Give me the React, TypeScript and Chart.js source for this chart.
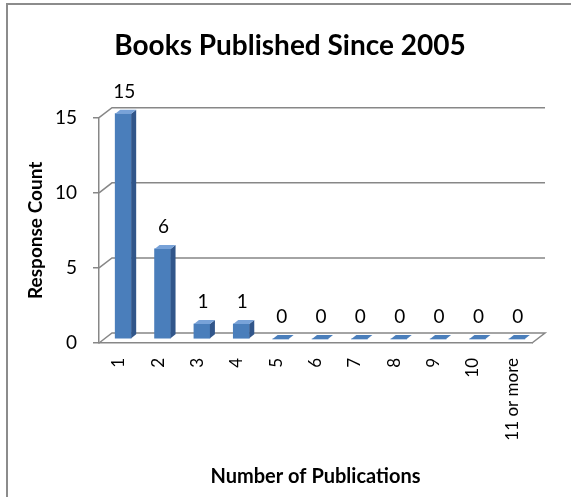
import React, { useEffect, useRef } from "react";
import { Chart, registerables } from "chart.js";

Chart.register(...registerables);

const categories = ["1", "2", "3", "4", "5", "6", "7", "8", "9", "10", "11 or more"];
const responseCounts = [15, 6, 1, 1, 0, 0, 0, 0, 0, 0, 0];
const yTickValues = [0, 5, 10, 15];
const chartTitle = "Books Published Since 2005";
const xAxisTitle = "Number of Publications";
const yAxisTitle = "Response Count";

const FONT = "Lato, 'Open Sans', 'DejaVu Sans', sans-serif";
const GRID = "#878787";
const FRONT = "#4a7ebb";
const SIDE = "#31568a";
const TOP = "#78a2d8";
const DEPTH_X = 13;
const DEPTH_Y = 10;
const SHIFT_X = 4.5;
const SHIFT_Y = 4;
const SIDE_X = 5;
const SIDE_Y = 4;

const threeD = {
  id: "threeD",
  beforeDraw(chart: any) {
    const { ctx, width, height } = chart;
    ctx.save();
    ctx.fillStyle = "#ffffff";
    ctx.fillRect(0, 0, width, height);
    ctx.fillStyle = "#8c8c8c";
    ctx.fillRect(6, 3, 2, height);
    ctx.fillRect(6, 3, width, 2);
    ctx.restore();
  },
  beforeDatasetsDraw(chart: any) {
    const { ctx, chartArea } = chart;
    const y = chart.scales.y;
    ctx.save();
    ctx.strokeStyle = GRID;
    ctx.lineWidth = 1.5;
    for (const v of yTickValues) {
      const py = y.getPixelForValue(v);
      ctx.beginPath();
      ctx.moveTo(chartArea.left, py);
      ctx.lineTo(chartArea.left + DEPTH_X, py - DEPTH_Y);
      ctx.lineTo(chartArea.right + DEPTH_X, py - DEPTH_Y);
      if (v === 0) ctx.lineTo(chartArea.right, py);
      ctx.stroke();
    }
    ctx.restore();
    ctx.save();
    ctx.translate(SHIFT_X, -SHIFT_Y);
  },
  afterDatasetsDraw(chart: any) {
    const { ctx } = chart;
    const meta = chart.getDatasetMeta(0);
    meta.data.forEach((bar: any, i: number) => {
      const { x, y, base, width } = bar.getProps(["x", "y", "base", "width"], true);
      const x1 = x - width / 2;
      const x2 = x + width / 2;
      if (base - y > 0.5) {
        ctx.fillStyle = SIDE;
        ctx.beginPath();
        ctx.moveTo(x2, base);
        ctx.lineTo(x2 + SIDE_X, base - SIDE_Y);
        ctx.lineTo(x2 + SIDE_X, y - SIDE_Y);
        ctx.lineTo(x2, y);
        ctx.closePath();
        ctx.fill();
        ctx.fillStyle = TOP;
      } else {
        ctx.fillStyle = FRONT;
      }
      ctx.beginPath();
      ctx.moveTo(x1, y);
      ctx.lineTo(x2, y);
      ctx.lineTo(x2 + SIDE_X, y - SIDE_Y);
      ctx.lineTo(x1 + SIDE_X, y - SIDE_Y);
      ctx.closePath();
      ctx.fill();

      ctx.fillStyle = "#000000";
      ctx.font = `19px ${FONT}`;
      ctx.textAlign = "center";
      ctx.textBaseline = "middle";
      ctx.fillText(String(responseCounts[i]), x + 1, y - 22);
    });
    ctx.restore();
  },
};

export default function App() {
  const canvasRef = useRef<HTMLCanvasElement | null>(null);

  useEffect(() => {
    if (!canvasRef.current) return;
    const titleSize = 28;
    const yTitleSize = 19;
    const chart = new Chart(canvasRef.current, {
      type: "bar",
      data: {
        labels: categories,
        datasets: [
          {
            label: yAxisTitle,
            data: responseCounts,
            backgroundColor: FRONT,
            borderWidth: 0,
            barThickness: 16,
            clip: false as any,
          },
        ],
      },
      options: {
        responsive: false,
        animation: false,
        devicePixelRatio: 1,
        layout: { padding: { left: 48, right: 39, top: 0, bottom: 0 } },
        plugins: {
          legend: { display: false },
          tooltip: { enabled: false },
          title: {
            display: true,
            text: chartTitle,
            color: "#000000",
            font: { family: FONT, size: titleSize, weight: "bold", lineHeight: 1.2 },
            padding: { top: 46 - 0.6 * titleSize, bottom: 71.7 - 0.6 * titleSize },
          },
        },
        scales: {
          x: {
            grid: { display: true, drawOnChartArea: false, drawTicks: false, color: GRID },
            border: { display: true, color: GRID, width: 1.5 },
            ticks: {
              minRotation: 90,
              maxRotation: 90,
              autoSkip: false,
              padding: 15,
              color: "#000000",
              font: { family: FONT, size: 17 },
            },
            title: {
              display: true,
              text: xAxisTitle,
              color: "#000000",
              font: { family: FONT, size: 20, weight: "bold", lineHeight: 1.2 },
              padding: { top: 0, bottom: 8 },
            },
            afterFit: (s: any) => {
              s.height = 154;
            },
          },
          y: {
            min: 0,
            max: 15,
            ticks: {
              stepSize: 5,
              padding: 16,
              color: "#000000",
              font: { family: FONT, size: 19 },
            },
            grid: {
              display: true,
              drawOnChartArea: false,
              drawTicks: true,
              tickLength: 6,
              color: GRID,
              lineWidth: 1.5,
            },
            border: { display: true, color: GRID, width: 1.5 },
            title: {
              display: true,
              text: yAxisTitle,
              color: "#000000",
              font: { family: FONT, size: yTitleSize, weight: "bold", lineHeight: 1.2 },
              padding: { top: 36 - 48 - 0.6 * yTitleSize, bottom: 0 },
            },
            afterFit: (s: any) => {
              s.width = 51;
            },
          },
        },
      },
      plugins: [threeD],
    });
    return () => chart.destroy();
  }, []);

  return (
    <div style={{ position: "absolute", left: 0, top: 0, width: 571, height: 497 }}>
      <canvas ref={canvasRef} width={571} height={497} style={{ display: "block" }} />
    </div>
  );
}
